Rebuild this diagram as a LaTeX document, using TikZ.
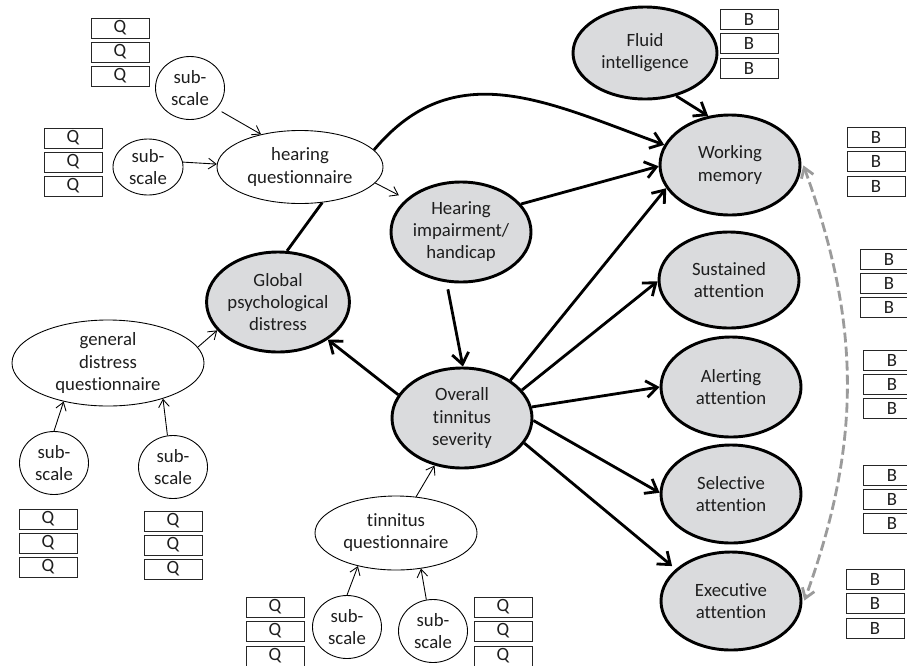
\documentclass[tikz,border=0pt]{standalone}
\usepackage{fontspec}
\setmainfont{Carlito}[Ligatures=NoCommon]
\usetikzlibrary{arrows.meta}
\usetikzlibrary{shapes.geometric}

\definecolor{latentfill}{RGB}{218,219,221}
\definecolor{covgray}{RGB}{155,155,155}
\definecolor{inkgray}{RGB}{30,30,30}

\begin{document}
\begin{tikzpicture}[x=0.03cm, y=-0.03cm,
	every node/.style={font=\fontsize{16}{18.8}\selectfont, text=inkgray, align=center},
	latent/.style={ellipse, draw=black, line width=2.5pt, fill=latentfill, inner sep=0pt, minimum width=4.2cm, minimum height=3cm},
	measured/.style={ellipse, draw=black, line width=0.75pt, inner sep=0pt},
	subscale/.style={ellipse, draw=black, line width=0.75pt, inner sep=0pt, minimum width=2.07cm, minimum height=1.89cm},
	indicator/.style={rectangle, draw=black!85, line width=0.65pt, inner sep=0pt, minimum width=1.74cm, minimum height=0.6cm},
	thickpath/.style={line width=2.4pt, -{Straight Barb[length=3.3mm,width=5mm]}},
	thinpath/.style={line width=0.75pt, -{Straight Barb[length=2.3mm,width=3.2mm]}},
	covpath/.style={line width=2.4pt, covgray, dash pattern=on 8.5pt off 3.5pt, {Straight Barb[length=2.8mm,width=3.8mm]}-{Straight Barb[length=2.8mm,width=3.8mm]}}]
	\useasboundingbox (0,0) rectangle (907,665);
	\clip (0,0) rectangle (907,665);
	
	% latent variables
	\node [latent, minimum width=4.32cm, minimum height=2.76cm] (fluid) at (645,53) {Fluid\\intelligence};
	\node [latent] (wm) at (730,165) {Working\\memory};
	\node [latent] (hi) at (461,232) {Hearing\\impairment/\\handicap};
	\node [latent] (global) at (278,302) {Global\\psychological\\distress};
	\node [latent] (overall) at (462,418) {Overall\\tinnitus\\severity};
	\node [latent, minimum height=2.88cm] (sust) at (729,280) {Sustained\\attention};
	\node [latent] (alert) at (731,387) {Alerting\\attention};
	\node [latent, minimum height=2.94cm] (sel) at (731,494) {Selective\\attention};
	\node [latent, minimum height=2.94cm] (exec) at (731,601) {Executive\\attention};
	
	% questionnaires
	\node [measured, minimum width=4.98cm, minimum height=2.19cm] (hq) at (300,167) {hearing\\questionnaire};
	\node [measured, minimum width=5.76cm, minimum height=2.58cm] (gdq) at (108,363) {general\\distress\\questionnaire};
	\node [measured, minimum width=4.86cm, minimum height=2.22cm] (tq) at (396,533) {tinnitus\\questionnaire};
	
	% subscales
	\node [subscale] (sa) at (190,88) {sub-\\scale};
	\node [subscale, minimum width=2.1cm, minimum height=1.68cm] (sb) at (148,167) {sub-\\scale};
	\node [subscale] (sc) at (54,463) {sub-\\scale};
	\node [subscale] (sd) at (173,467) {sub-\\scale};
	\node [subscale] (se) at (347,627) {sub-\\scale};
	\node [subscale] (sf) at (433,631) {sub-\\scale};
	
	% questionnaire items
	\node [indicator] (qa1) at (120,28) {Q};
	\node [indicator] (qa2) at (120,52) {Q};
	\node [indicator] (qa3) at (120,76) {Q};
	\node [indicator] (qb1) at (73,138) {Q};
	\node [indicator] (qb2) at (73,162) {Q};
	\node [indicator] (qb3) at (73,186) {Q};
	\node [indicator] (qc1) at (48,519) {Q};
	\node [indicator] (qc2) at (48,543) {Q};
	\node [indicator] (qc3) at (48,567) {Q};
	\node [indicator] (qd1) at (173,521) {Q};
	\node [indicator] (qd2) at (173,545) {Q};
	\node [indicator] (qd3) at (173,569) {Q};
	\node [indicator] (qe1) at (275,607) {Q};
	\node [indicator] (qe2) at (275,631) {Q};
	\node [indicator] (qe3) at (275,656) {Q};
	\node [indicator] (qf1) at (503,607) {Q};
	\node [indicator] (qf2) at (503,631) {Q};
	\node [indicator] (qf3) at (503,656) {Q};
	
	% behavioural tests
	\node [indicator] (ba1) at (749,19) {B};
	\node [indicator] (ba2) at (749,43) {B};
	\node [indicator] (ba3) at (749,68) {B};
	\node [indicator] (bb1) at (876,137) {B};
	\node [indicator] (bb2) at (876,161) {B};
	\node [indicator] (bb3) at (876,186) {B};
	\node [indicator] (bc1) at (889,259) {B};
	\node [indicator] (bc2) at (889,283) {B};
	\node [indicator] (bc3) at (889,307) {B};
	\node [indicator] (bd1) at (892,360) {B};
	\node [indicator] (bd2) at (892,384) {B};
	\node [indicator] (bd3) at (892,408) {B};
	\node [indicator] (be1) at (892,475) {B};
	\node [indicator] (be2) at (892,499) {B};
	\node [indicator] (be3) at (892,523) {B};
	\node [indicator] (bf1) at (875,579) {B};
	\node [indicator] (bf2) at (875,603) {B};
	\node [indicator] (bf3) at (875,628) {B};
	
	% structural paths
	\draw [thickpath] (hq.13) to[out=50, in=160, looseness=1.1] (wm.163);
	\draw [thickpath] (fluid.306) -- (wm.114);
	\draw [thickpath] (hi.25) -- (wm.181);
	\draw [line width=2.4pt] (global.80) -- (hq.302);
	\draw [thickpath, shorten <=6pt] (hi.254) -- (overall.89);
	\draw [thickpath] (overall.160) -- (global.323);
	\draw [thickpath] (overall.38) -- (wm.200);
	\draw [thickpath] (overall.25) -- (sust.181);
	\draw [thickpath] (overall.9) -- (alert.180);
	\draw [thickpath] (overall.358) -- (sel.179);
	\draw [thickpath, shorten >=4pt] (overall.338) -- (exec.150);
	
	% measurement paths
	\draw [thinpath, shorten >=7pt] (hq.348) -- (hi.149);
	\draw [thinpath] (tq.61) -- (overall.240);
	\draw [thinpath] (gdq.10) -- (global.205);
	\draw [thinpath, shorten <=5pt] (sa.322) -- (hq.140);
	\draw [thinpath] (sb.8) -- (hq.178);
	\draw [thinpath] (sc.90) -- (gdq.221);
	\draw [thinpath] (sd.100) -- (gdq.327);
	\draw [thinpath] (se.90) -- (tq.221);
	\draw [thinpath] (sf.102) -- (tq.305);
	
	% covariance
	\draw [covpath, shorten <=6pt, shorten >=6pt] (wm.5) to[out=-70, in=70] (exec.355);
\end{tikzpicture}
\end{document}
